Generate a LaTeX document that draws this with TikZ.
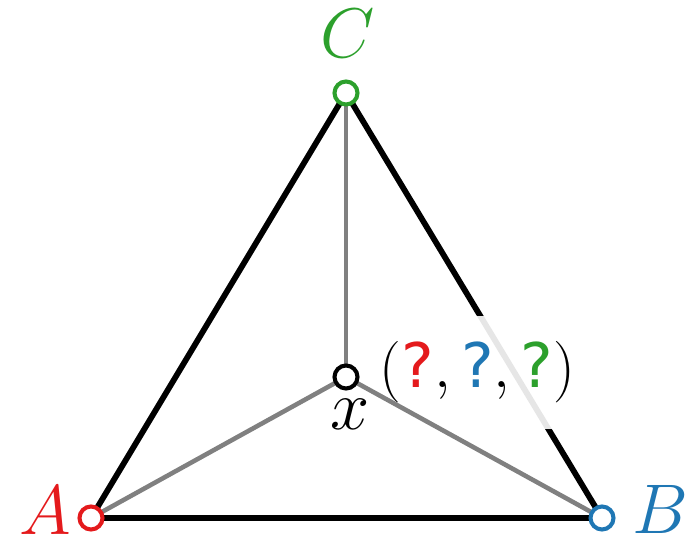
\RequirePackage{fix-cm}
\documentclass[tikz,border=0pt]{standalone}
\usepackage{fontspec}
\usepackage{tikz}
\newfontfamily\qfont{DejaVu Sans}
\definecolor{cA}{RGB}{228,26,28}
\definecolor{cB}{RGB}{31,119,180}
\definecolor{cC}{RGB}{44,160,44}
\newcommand{\qm}[1]{\textcolor{#1}{\mbox{\qfont ?}}}

\begin{document}
\begin{tikzpicture}[
    edge/.style={line width=3.3pt},
    spoke/.style={line width=2.6pt, black!50},
    vtx/.style={circle, draw=#1, fill=white, line width=2.3pt,
                minimum size=0.46cm, inner sep=0pt},
    vlbl/.style={anchor=base, inner sep=0pt,
                 font=\fontsize{40}{44}\selectfont},
    tuple/.style={anchor=base, fill=white, fill opacity=0.9,
                  text opacity=1, inner sep=0.52cm,
                  font=\fontsize{35}{39}\selectfont}
  ]
  \useasboundingbox (0,0) rectangle (13.72,10.86);

  % Corners and interior point.
  \coordinate (a) at (1.82,0.5);
  \coordinate (b) at (12.04,0.5);
  \coordinate (c) at (6.92,9.0);
  \coordinate (p) at (6.92,3.32);

  % Triangle.
  \draw[edge] (a) -- (b) -- (c) -- cycle;

  % Coordinate tuple over the edge.
  \node[tuple] (tup) at (9.55,3.1) {$(\qm{cA},\qm{cB},\qm{cC})$};

  % Spokes to the point.
  \draw[spoke] (p) -- (a);
  \draw[spoke] (p) -- (b);
  \draw[spoke] (p) -- (c);

  % Markers.
  \node[vtx=cA]    (A) at (a) {};
  \node[vtx=cB]    (B) at (b) {};
  \node[vtx=cC]    (C) at (c) {};
  \node[vtx=black] (X) at (p) {};

  % Labels.
  \node[vlbl, text=cA] (lA) at (0.9,0.18)  {$A$};
  \node[vlbl, text=cB] (lB) at (13.2,0.2)  {$B$};
  \node[vlbl, text=cC] (lC) at (6.96,9.7)  {$C$};
  \node[vlbl]          (lX) at (7.0,2.26)  {$x$};

\end{tikzpicture}
\end{document}
